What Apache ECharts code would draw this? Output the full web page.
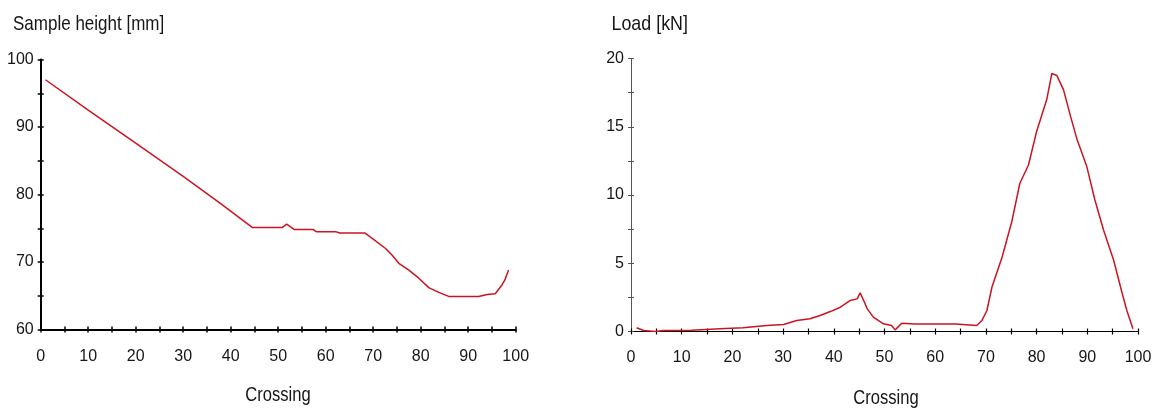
<!DOCTYPE html>
<html>
<head>
<meta charset="utf-8">
<script src="https://cdn.jsdelivr.net/npm/echarts@6/dist/echarts.min.js"></script>
<style>
  html, body { margin: 0; padding: 0; background: #fff; }
  #chart { width: 1163px; height: 412px; }
</style>
</head>
<body>
<div id="chart"></div>
<script>
// Sample height over crossings
const heightCrossing = [1, 10, 20, 30, 37.6, 44.6, 50.8, 51.8, 53.4, 57.4, 58, 62.1, 63, 68.2, 69.8, 72.6, 74, 75.4, 77.5, 79.6, 81.7, 83.8, 85.9, 92.2, 94, 95.7, 97.1, 97.7, 98.5];
const heightValues   = [97.0, 92.5, 87.6, 82.7, 78.8, 75.1, 75.1, 75.6, 74.8, 74.8, 74.5, 74.5, 74.3, 74.3, 73.5, 72.0, 71.0, 69.8, 68.8, 67.6, 66.2, 65.5, 64.9, 64.9, 65.2, 65.3, 66.6, 67.3, 68.8];

// Load over crossings
const loadCrossing = [1.1, 2.5, 4.8, 6.4, 11.9, 17.6, 22.1, 26.8, 30.1, 32.7, 35.3, 37.3, 39.3, 41.3, 43.2, 44.6, 45.2, 45.9, 46.6, 47.8, 49.8, 51.4, 52.1, 53.4, 56, 60, 64, 68.2, 69.2, 70.2, 71.2, 73.2, 75.1, 76.7, 78.4, 80.0, 82.0, 83.0, 84.0, 85.3, 86.7, 88.0, 89.9, 91.5, 93.2, 95.2, 96.9, 97.8, 99.0];
const loadValues   = [0.27, 0.07, 0, 0.07, 0.1, 0.2, 0.27, 0.44, 0.51, 0.8, 0.93, 1.17, 1.46, 1.78, 2.27, 2.39, 2.83, 2.27, 1.66, 1.05, 0.56, 0.44, 0.12, 0.61, 0.55, 0.55, 0.55, 0.44, 0.8, 1.54, 3.26, 5.46, 8.04, 10.86, 12.2, 14.65, 16.99, 18.9, 18.75, 17.72, 15.76, 14.04, 12.08, 9.63, 7.43, 5.22, 2.77, 1.54, 0.2];

const xTicks = { min: 0, max: 100, interval: 5, labelStep: 10 };
const heightTicks = { min: 60, max: 100, interval: 5, labelStep: 10 };
const loadTicks = { min: 0, max: 20, interval: 2.5, labelStep: 5 };

const FONT = '"Liberation Sans", Arial, sans-serif';
const TEXT = '#161616';
const LINE = '#cc1420';

const pairs = (xs, ys) => xs.map((x, i) => [x, ys[i]]);

function valueAxis(gridIndex, t, opts) {
  return Object.assign({
    type: 'value', gridIndex,
    min: t.min, max: t.max, interval: t.interval,
    splitLine: { show: false },
    axisTick: { show: true, length: 3, lineStyle: { color: '#000', width: 1.5 } },
    axisLabel: {
      fontFamily: FONT, fontSize: 16, color: TEXT, margin: 7,
      formatter: v => (Math.abs(v / t.labelStep - Math.round(v / t.labelStep)) < 1e-6 ? String(v) : '')
    }
  }, opts);
}

// ticks drawn on the inner side so they cross the axis line
function innerTicks(gridIndex, t, position, color, width) {
  return {
    type: 'value', gridIndex, position,
    min: t.min, max: t.max, interval: t.interval,
    splitLine: { show: false },
    axisLine: { show: false },
    axisLabel: { show: false },
    axisTick: { show: true, inside: true, length: 3, lineStyle: { color, width } }
  };
}

// condensed captions
function caption(text, x, y, sx, align) {
  return {
    type: 'text', x, y, scaleX: sx, scaleY: 1, silent: true,
    style: {
      text, font: '21px "Liberation Sans", Arial, sans-serif', fill: TEXT,
      textAlign: align, align: align, textVerticalAlign: 'middle', verticalAlign: 'middle'
    }
  };
}

const chart = echarts.init(document.getElementById('chart'), null, { renderer: 'canvas' });
chart.setOption({
  animation: false,
  backgroundColor: '#fff',
  graphic: [
    caption('Sample height [mm]', 13, 24, 0.81, 'left'),
    caption('Load [kN]', 611.5, 24, 0.85, 'left'),
    caption('Crossing', 278, 395, 0.79, 'center'),
    caption('Crossing', 886, 398, 0.79, 'center')
  ],
  grid: [
    { left: 40.7, top: 59.5, width: 475, height: 270 },
    { left: 631, top: 58.5, width: 507, height: 273 }
  ],
  xAxis: [
    valueAxis(0, xTicks, {
      position: 'bottom',
      axisLine: { lineStyle: { color: '#000', width: 2 } },
      axisLabel: Object.assign({}, valueAxis(0, xTicks, {}).axisLabel, { margin: 19 })
    }),
    innerTicks(0, xTicks, 'bottom', '#000', 1.5),
    valueAxis(1, xTicks, {
      position: 'bottom',
      axisLine: { lineStyle: { color: '#000', width: 1.2 } },
      axisTick: { show: true, length: 3, lineStyle: { color: '#000', width: 1.2 } },
      axisLabel: Object.assign({}, valueAxis(1, xTicks, {}).axisLabel, { margin: 18.5 })
    }),
    innerTicks(1, xTicks, 'bottom', '#000', 1.2)
  ],
  yAxis: [
    valueAxis(0, heightTicks, {
      position: 'left',
      axisLine: { show: true, lineStyle: { color: '#000', width: 2 } }
    }),
    innerTicks(0, heightTicks, 'left', '#000', 1.5),
    valueAxis(1, loadTicks, {
      position: 'left',
      axisLine: { show: true, lineStyle: { color: '#555', width: 1 } },
      axisTick: { show: true, length: 3, lineStyle: { color: '#555', width: 1 } }
    }),
    innerTicks(1, loadTicks, 'left', '#555', 1)
  ],
  series: [
    {
      type: 'line', xAxisIndex: 0, yAxisIndex: 0,
      data: pairs(heightCrossing, heightValues),
      showSymbol: false, lineStyle: { color: LINE, width: 1.5 }
    },
    {
      type: 'line', xAxisIndex: 2, yAxisIndex: 2,
      data: pairs(loadCrossing, loadValues),
      showSymbol: false, lineStyle: { color: LINE, width: 1.5 }
    }
  ]
});
</script>
</body>
</html>
